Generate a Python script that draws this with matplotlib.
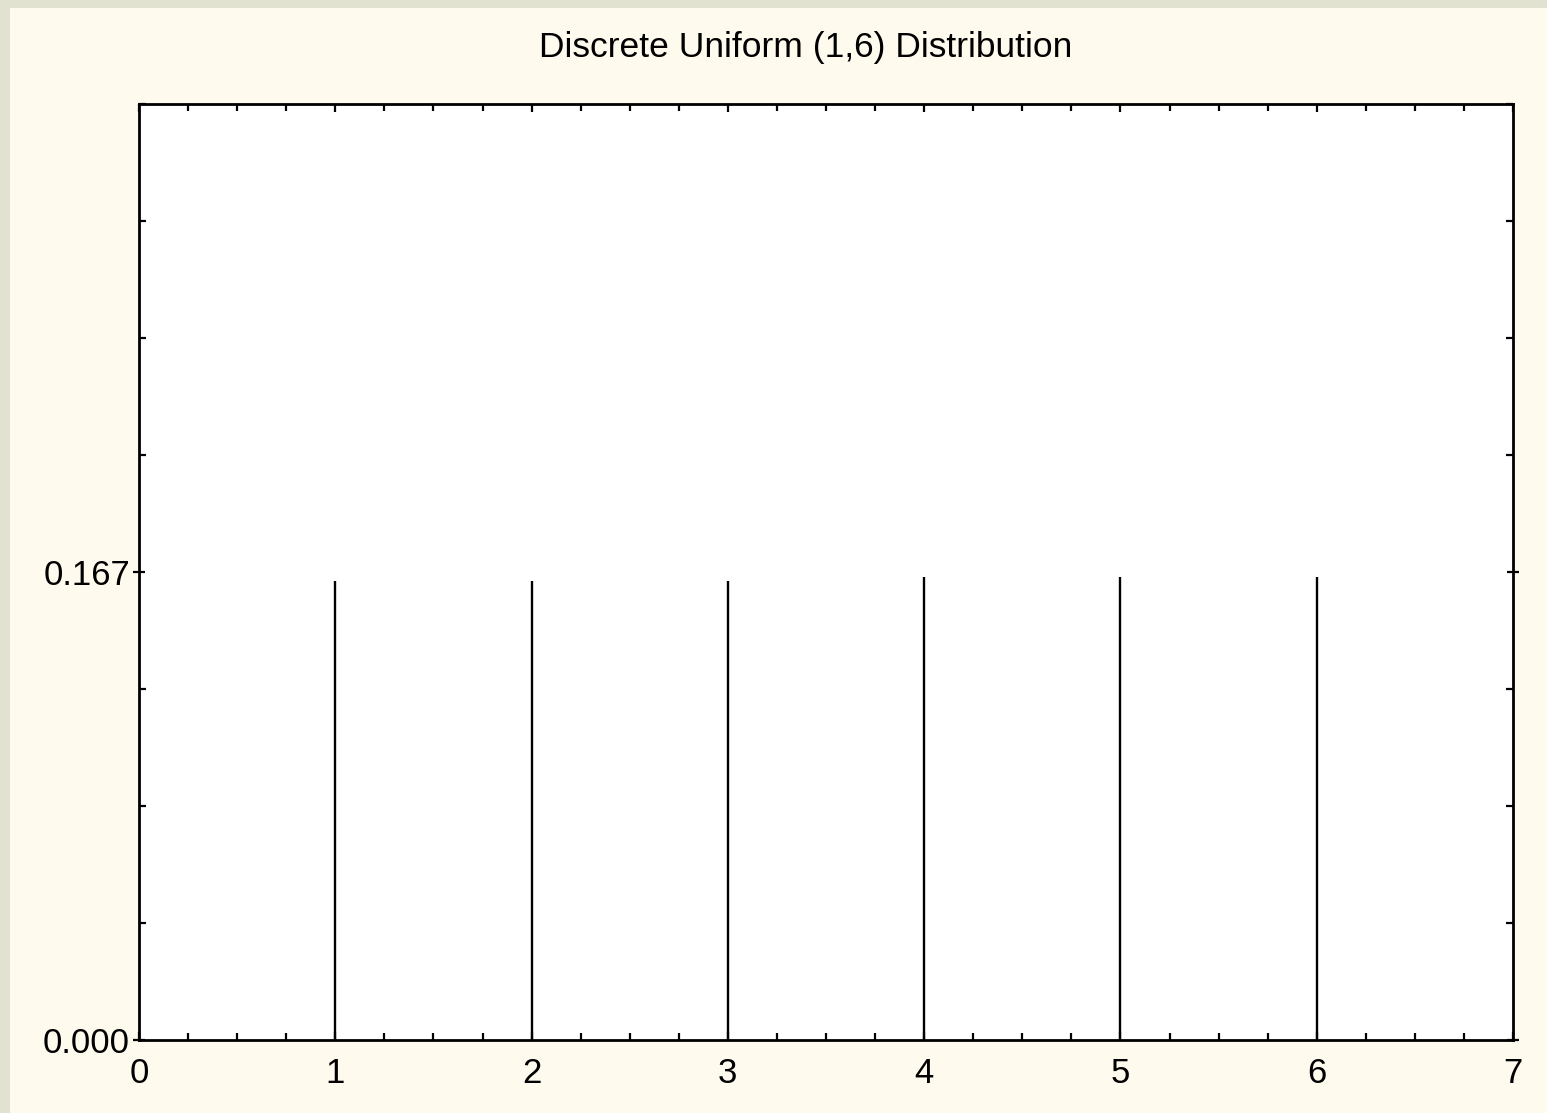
import matplotlib
matplotlib.use("Agg")
import matplotlib.pyplot as plt
from matplotlib.patches import Rectangle
from matplotlib.ticker import MultipleLocator, FixedLocator

plt.rcParams['font.family'] = ['Liberation Sans', 'DejaVu Sans']

title = "Discrete Uniform (1,6) Distribution"
x_values = [1, 2, 3, 4, 5, 6]
probabilities = [0.1634, 0.1634, 0.1634, 0.1649, 0.1649, 0.1649]
y_tick_values = [0.0, 1/6]
y_tick_labels = ["0.000", "0.167"]
x_tick_values = [0, 1, 2, 3, 4, 5, 6, 7]

W, H = 1547, 1113
fig = plt.figure(figsize=(W/100, H/100), dpi=100)
fig.patch.set_facecolor('#FFFAEE')

# textured border on left and top
fig.patches.append(Rectangle((0, 0), 10/W, 1, transform=fig.transFigure,
                             facecolor='#E1E2D0', edgecolor='none', zorder=-1))
fig.patches.append(Rectangle((0, 1-8/H), 1, 8/H, transform=fig.transFigure,
                             facecolor='#E1E2D0', edgecolor='none', zorder=-1))

ax = fig.add_axes([139/W, (H-1040)/H, (1513-139)/W, (1040-104)/H])
ax.set_facecolor('white')
ax.vlines(x_values, 0, probabilities, colors='black', linewidth=1.7)

ax.set_xlim(0, 7)
ax.set_ylim(0, 1/3)
ax.set_xticks(x_tick_values)
ax.set_xticklabels([str(v) for v in x_tick_values])
ax.xaxis.set_minor_locator(MultipleLocator(0.25))
ax.yaxis.set_major_locator(FixedLocator(y_tick_values))
ax.set_yticklabels(y_tick_labels)
ax.yaxis.set_minor_locator(MultipleLocator(1/24))

for s in ax.spines.values():
    s.set_linewidth(2.0)
    s.set_color('black')

ax.tick_params(axis='both', which='both', direction='in', top=True, right=True,
               width=1.6, colors='black')
ax.tick_params(axis='both', which='major', length=6, labelsize=25)
ax.tick_params(axis='x', which='major', pad=12)
ax.tick_params(axis='both', which='minor', length=5)
ax.tick_params(axis='y', which='major', direction='inout', length=8, pad=2.5)

fig.text(806/W, 1-48/H, title, ha='center', va='center', fontsize=25.5)

fig.savefig('out.png', dpi=100, facecolor=fig.get_facecolor())
